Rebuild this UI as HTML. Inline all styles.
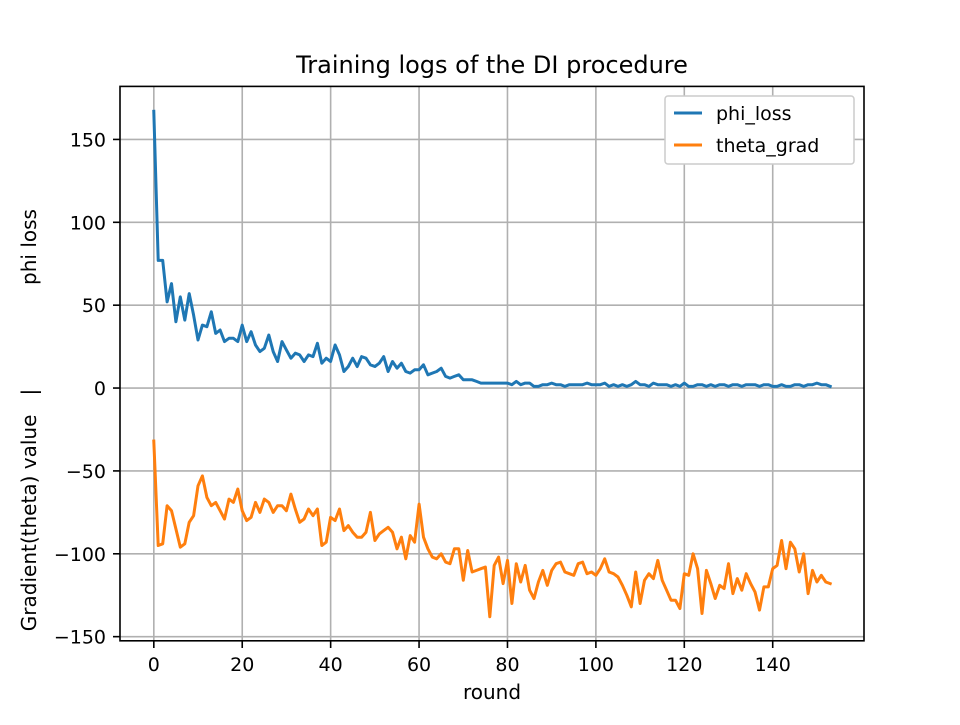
<!DOCTYPE html>
<html><head><meta charset="utf-8"><style>
body{margin:0;background:#fff}
svg text{font-family:"DejaVu Sans","Liberation Sans",sans-serif;fill:#000}
</style></head><body>
<svg width="960" height="720">
<g id="grid"></g>
<g id="lines"></g>
<rect x="120" y="86.4" width="744" height="554.4" fill="none" stroke="#000" stroke-width="1.6"/>
<g id="ticks"></g>
<text x="492" y="73" font-size="24" text-anchor="middle">Training logs of the DI procedure</text>
<text x="492" y="699" font-size="20" text-anchor="middle">round</text>
<text transform="translate(36,247) rotate(-90)" font-size="20" text-anchor="middle">phi loss</text>
<text transform="translate(36,510) rotate(-90)" font-size="20" text-anchor="middle" xml:space="preserve">Gradient(theta) value   |</text>
<g>
<rect x="665" y="96" width="189" height="68" rx="3" fill="#fff" stroke="#ccc" stroke-width="1.5"/>
<line x1="674" y1="113" x2="702" y2="113" stroke="#1f77b4" stroke-width="3"/>
<text x="716" y="120" font-size="19">phi_loss</text>
<line x1="674" y1="145" x2="702" y2="145" stroke="#ff7f0e" stroke-width="3"/>
<text x="716" y="152" font-size="19">theta_grad</text>
</g>
</svg>
<script>
const xTicks=[0,20,40,60,80,100,120,140];
const yTicks=[150,100,50,0,-50,-100,-150];
const phiLoss=[167,77,77,52,63,40,55,41,57,44,29,38,37,46,33,35,28,30,30,28,38,28,34,26,22,24,32,22,16,28,23,18,21,20,16,20,19,27,15,18,16,26,20,10,13,18,13,19,18,14,13,15,19,10,16,12,15,10,9,11,11,14,8,9,10,12,7,6,7,8,5,5,5,4,3,3,3,3,3,3,3,2,4,2,3,3,1,1,2,2,3,2,2,1,2,2,2,2,3,2,2,2,3,1,2,1,2,1,2,4,2,2,1,3,2,2,2,1,2,1,3,1,1,2,2,1,2,1,2,2,1,2,2,1,2,2,2,1,2,2,1,1,2,1,1,2,2,1,2,2,3,2,2,1];
const thetaGrad=[-32,-95,-94,-71,-74,-85,-96,-94,-81,-77,-59,-53,-66,-71,-69,-74,-79,-67,-69,-61,-74,-80,-78,-69,-75,-67,-69,-75,-71,-71,-74,-64,-73,-81,-79,-73,-77,-73,-95,-93,-78,-80,-73,-86,-83,-87,-90,-90,-87,-75,-92,-88,-86,-84,-87,-97,-90,-103,-89,-93,-70,-90,-97,-102,-103,-100,-105,-106,-97,-97,-116,-98,-111,-110,-109,-108,-138,-107,-102,-118,-104,-130,-106,-117,-107,-122,-127,-117,-110,-119,-110,-106,-105,-111,-112,-113,-106,-105,-112,-111,-113,-109,-103,-111,-112,-114,-119,-125,-132,-111,-130,-116,-112,-115,-104,-116,-122,-128,-128,-133,-112,-113,-100,-109,-136,-110,-118,-127,-119,-121,-106,-124,-115,-122,-112,-118,-123,-134,-120,-120,-109,-107,-92,-109,-93,-97,-111,-100,-124,-110,-117,-113,-117,-118];
const NS="http://www.w3.org/2000/svg";
const n=phiLoss.length;
const xmin=-(n-1)*0.05,xmax=(n-1)*1.05;
const ymin=-152.5, ymax=182;
const X=v=>120+(v-xmin)/(xmax-xmin)*744;
const Y=v=>640.8-(v-ymin)/(ymax-ymin)*554.4;
const grid=document.getElementById('grid'),ticks=document.getElementById('ticks'),lines=document.getElementById('lines');
function mk(tag,attrs,parent){const e=document.createElementNS(NS,tag);for(const k in attrs)e.setAttribute(k,attrs[k]);parent.appendChild(e);return e;}
xTicks.forEach(t=>{
 const x=X(t);
 const g=mk('line',{x1:x,x2:x,y1:86.4,y2:640.8,stroke:'#b0b0b0','stroke-width':1.6},grid);
 
 
 mk('line',{x1:x,x2:x,y1:640.8,y2:648,stroke:'#000','stroke-width':1.6},ticks);
 const tx=mk('text',{x:x,y:671,'font-size':19,'text-anchor':'middle'},ticks);
 tx.textContent=t;
 
 
});
yTicks.forEach(t=>{
 const y=Y(t);
 const g=mk('line',{x1:120,x2:864,y1:y,y2:y,stroke:'#b0b0b0','stroke-width':1.6},grid);
 
 
 mk('line',{x1:113,x2:120,y1:y,y2:y,stroke:'#000','stroke-width':1.6},ticks);
 const tx=mk('text',{x:106,y:y+7,'font-size':19,'text-anchor':'end'},ticks);
 tx.textContent=t===0?'0':(t<0?'\u2212'+(-t):t);
 
 
});
function series(arr,color,name){
 const d=arr.map((v,i)=>(i?'L':'M')+X(i).toFixed(1)+','+Y(v).toFixed(1)).join('');
 const p=mk('path',{d:d,fill:'none',stroke:color,'stroke-width':3,'stroke-linejoin':'round','stroke-linecap':'square'},lines);
 
 
}
series(phiLoss,'#1f77b4','phi-loss-line');
series(thetaGrad,'#ff7f0e','theta-grad-line');
</script>
</body></html>
